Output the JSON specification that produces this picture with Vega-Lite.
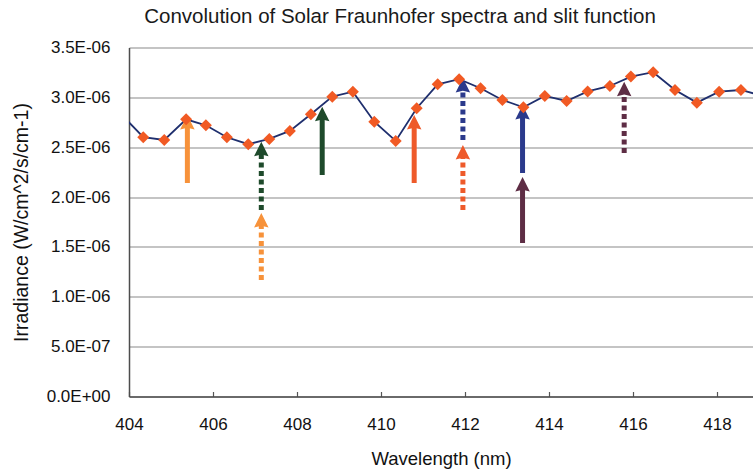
{
  "$schema": "https://vega.github.io/schema/vega-lite/v6.json",
  "width": 624,
  "height": 349,
  "autosize": {"type": "none"},
  "padding": {"left": 129, "top": 47.5, "right": 0, "bottom": 72.5},
  "background": "white",
  "config": {
    "font": "Liberation Sans",
    "view": {"stroke": null}
  },
  "title": {
    "text": "Convolution of Solar Fraunhofer spectra and slit function",
    "font": "Liberation Sans",
    "fontSize": 20.5,
    "fontWeight": "normal",
    "color": "#1a1a1a",
    "anchor": "middle",
    "frame": "group",
    "baseline": "alphabetic",
    "offset": -4.5,
    "dx": -41
  },
  "datasets": {
    "spectrum": [
      {"wavelength": 403.83, "irradiance": 2.823e-6},
      {"wavelength": 404.34, "irradiance": 2.600e-6},
      {"wavelength": 404.84, "irradiance": 2.573e-6},
      {"wavelength": 405.36, "irradiance": 2.780e-6},
      {"wavelength": 405.83, "irradiance": 2.720e-6},
      {"wavelength": 406.33, "irradiance": 2.600e-6},
      {"wavelength": 406.84, "irradiance": 2.530e-6},
      {"wavelength": 407.34, "irradiance": 2.583e-6},
      {"wavelength": 407.83, "irradiance": 2.663e-6},
      {"wavelength": 408.33, "irradiance": 2.830e-6},
      {"wavelength": 408.84, "irradiance": 3.007e-6},
      {"wavelength": 409.33, "irradiance": 3.057e-6},
      {"wavelength": 409.84, "irradiance": 2.756e-6},
      {"wavelength": 410.35, "irradiance": 2.563e-6},
      {"wavelength": 410.85, "irradiance": 2.891e-6},
      {"wavelength": 411.35, "irradiance": 3.131e-6},
      {"wavelength": 411.86, "irradiance": 3.182e-6},
      {"wavelength": 412.37, "irradiance": 3.091e-6},
      {"wavelength": 412.89, "irradiance": 2.974e-6},
      {"wavelength": 413.39, "irradiance": 2.901e-6},
      {"wavelength": 413.90, "irradiance": 3.014e-6},
      {"wavelength": 414.42, "irradiance": 2.964e-6},
      {"wavelength": 414.92, "irradiance": 3.059e-6},
      {"wavelength": 415.45, "irradiance": 3.114e-6},
      {"wavelength": 415.95, "irradiance": 3.208e-6},
      {"wavelength": 416.48, "irradiance": 3.252e-6},
      {"wavelength": 417.00, "irradiance": 3.074e-6},
      {"wavelength": 417.52, "irradiance": 2.947e-6},
      {"wavelength": 418.05, "irradiance": 3.057e-6},
      {"wavelength": 418.57, "irradiance": 3.074e-6},
      {"wavelength": 419.08, "irradiance": 3.015e-6}
    ],
    "lines": [
      {"wavelength": 405.39, "from": 2.141e-6, "to": 2.823e-6, "line": "line 1", "kind": "observed"},
      {"wavelength": 407.15, "from": 1.169e-6, "to": 1.840e-6, "line": "line 1", "kind": "shifted"},
      {"wavelength": 407.15, "from": 1.871e-6, "to": 2.556e-6, "line": "line 2", "kind": "shifted"},
      {"wavelength": 408.60, "from": 2.222e-6, "to": 2.907e-6, "line": "line 2", "kind": "observed"},
      {"wavelength": 410.79, "from": 2.141e-6, "to": 2.823e-6, "line": "line 3", "kind": "observed"},
      {"wavelength": 411.95, "from": 1.871e-6, "to": 2.523e-6, "line": "line 3", "kind": "shifted"},
      {"wavelength": 411.95, "from": 2.573e-6, "to": 3.195e-6, "line": "line 4", "kind": "shifted"},
      {"wavelength": 413.37, "from": 2.241e-6, "to": 2.923e-6, "line": "line 4", "kind": "observed"},
      {"wavelength": 413.37, "from": 1.539e-6, "to": 2.202e-6, "line": "line 5", "kind": "observed"},
      {"wavelength": 415.79, "from": 2.443e-6, "to": 3.157e-6, "line": "line 5", "kind": "shifted"}
    ]
  },
  "layer": [
    {
      "data": {"name": "spectrum"},
      "mark": {"type": "line", "color": "#1f2f6e", "strokeWidth": 1.8, "clip": true},
      "encoding": {
        "x": {
          "field": "wavelength",
          "type": "quantitative",
          "scale": {"domain": [404, 418.857], "nice": false, "zero": false},
          "axis": {
            "values": [404, 406, 408, 410, 412, 414, 416, 418],
            "grid": false,
            "ticks": true,
            "tickSize": -5,
            "tickColor": "#555555",
            "tickWidth": 1.2,
            "domainColor": "#4d4d4d",
            "domainWidth": 1.5,
            "labelFlush": false,
            "labelFontSize": 17,
            "labelColor": "#111111",
            "labelPadding": 25,
            "title": "Wavelength (nm)",
            "titleFontSize": 18.5,
            "titleFontWeight": "normal",
            "titleColor": "#111111",
            "titlePadding": 17
          }
        },
        "y": {
          "field": "irradiance",
          "type": "quantitative",
          "scale": {"domain": [0, 3.5e-6], "nice": false},
          "axis": {
            "values": [0, 5e-7, 1e-6, 1.5e-6, 2e-6, 2.5e-6, 3e-6, 3.5e-6],
            "labelExpr": "datum.value == 0 ? '0.0E+00' : datum.value < 9e-7 ? format(datum.value * 1e7, '.1f') + 'E-07' : format(datum.value * 1e6, '.1f') + 'E-06'",
            "grid": true,
            "gridColor": "#8a8a8a",
            "gridWidth": 1.2,
            "ticks": false,
            "domainColor": "#4d4d4d",
            "domainWidth": 1.5,
            "labelFontSize": 17,
            "labelColor": "#111111",
            "labelPadding": 19,
            "title": "Irradiance (W/cm^2/s/cm-1)",
            "titleFontSize": 19.5,
            "titleFontWeight": "normal",
            "titleColor": "#111111",
            "titlePadding": 15
          }
        }
      }
    },
    {
      "data": {"name": "lines"},
      "mark": {"type": "rule", "strokeWidth": 5, "strokeCap": "butt", "y2Offset": 10},
      "encoding": {
        "x": {"field": "wavelength", "type": "quantitative"},
        "y": {"field": "from", "type": "quantitative", "title": "Irradiance (W/cm^2/s/cm-1)"},
        "y2": {"field": "to"},
        "color": {
          "field": "line",
          "type": "nominal",
          "scale": {
            "domain": ["line 1", "line 2", "line 3", "line 4", "line 5"],
            "range": ["#f7923a", "#1e4a2b", "#ee5a2a", "#2b3a8c", "#5e2d45"]
          },
          "legend": null
        },
        "strokeDash": {
          "field": "kind",
          "type": "nominal",
          "scale": {"domain": ["observed", "shifted"], "range": [[1, 0], [5, 3.5]]},
          "legend": null
        }
      }
    },
    {
      "data": {"name": "lines"},
      "mark": {
        "type": "point",
        "shape": "M0,0L0.5,1L0,0.88L-0.5,1Z",
        "size": 841,
        "filled": true,
        "opacity": 1,
        "strokeWidth": 0
      },
      "encoding": {
        "x": {"field": "wavelength", "type": "quantitative"},
        "y": {"field": "to", "type": "quantitative", "title": "Irradiance (W/cm^2/s/cm-1)"},
        "color": {"field": "line", "type": "nominal", "legend": null}
      }
    },
    {
      "data": {"name": "spectrum"},
      "mark": {
        "type": "point",
        "shape": "diamond",
        "size": 144,
        "filled": true,
        "opacity": 1,
        "color": "#f15a24",
        "strokeWidth": 0,
        "clip": true
      },
      "encoding": {
        "x": {"field": "wavelength", "type": "quantitative"},
        "y": {"field": "irradiance", "type": "quantitative", "title": "Irradiance (W/cm^2/s/cm-1)"}
      }
    }
  ]
}
